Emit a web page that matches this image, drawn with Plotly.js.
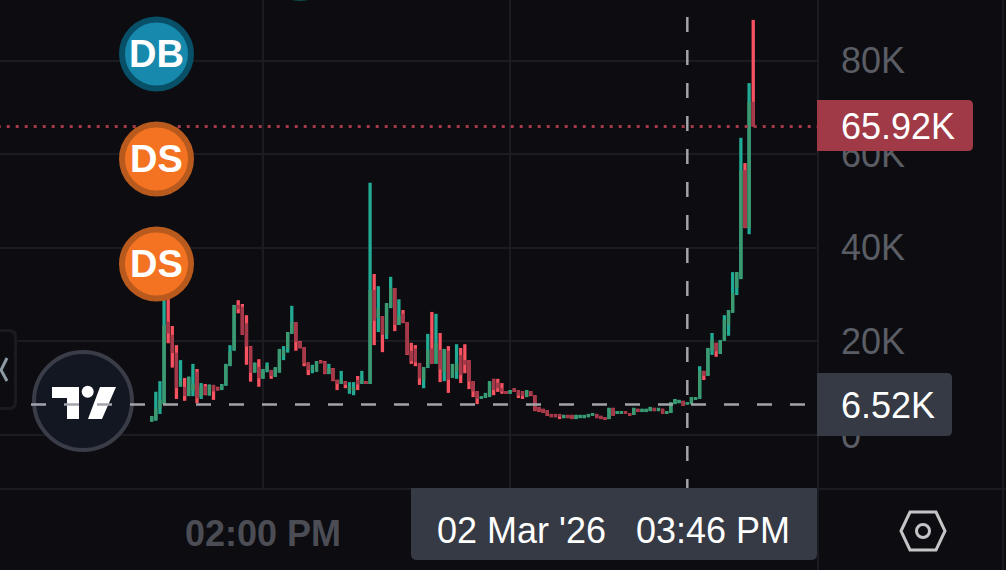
<!DOCTYPE html>
<html>
<head>
<meta charset="utf-8">
<script src="https://cdn.plot.ly/plotly-3.0.1.min.js"></script>
<style>
  html, body { margin: 0; padding: 0; background: #0c0c11; overflow: hidden; }
  #plot { width: 1006px; height: 570px; }
</style>
</head>
<body>
<div id="plot"></div>
<script>
// values in thousands, one entry per candle
const open = [2.9,3.2,5.7,6.6,24.2,21.4,17.6,10.6,10.3,8.4,9.5,13.5,8.2,10.4,8.5,10.7,10.2,9.7,10.6,14.8,18.1,27.8,27.4,23.9,18.9,13.4,14.6,12.1,13.8,13.9,12.5,13.4,16.9,18.5,21.7,24.1,20,18.8,15.5,13.8,13.6,15.9,15.7,13.1,14.2,11.8,11,11.4,9.6,9.4,11.8,11,11.5,11,31,25,25.4,21.4,27.2,31.4,23.6,25.9,24.1,18,18.5,15.4,11.75,14.4,18.5,15.3,18.2,13.5,18,12.3,13.5,17.1,16,16,11.5,9.4,7.8,8,8.2,12,11.2,10,9.4,8.8,10,9.6,9.4,8.1,9.4,8.5,6,5.6,5.3,4.5,4.5,4.5,3.6,4.3,4.3,3.4,3.6,3.6,3.8,4.1,4.5,4.1,3.8,3.4,5.8,4.5,4.5,5.1,4.7,4.3,5.6,4.9,4.9,5.1,5.8,5.1,5.6,4.5,4.7,6.6,6.8,7.3,6.5,6.6,7.5,7.8,13.7,12.7,18,19.7,17.4,20.2,23.5,26.2,31.4,33.4,56.6,44.2,71.2];
const close = [4,5.7,7.5,23.5,21.7,17.5,10,11.6,8.3,12.4,11,7.8,10.4,8.6,10.7,9.3,9.6,10.8,15.1,17.8,27.7,26.9,21.5,18.9,13.3,15.4,12.1,14,14.8,12.6,14.4,18.3,18.2,22,24.2,19.9,18.6,15.3,13.9,14.6,15.7,15.4,13.1,14.3,11.6,10.9,11.8,10.7,10.4,10.2,10.8,11.8,10.9,31,24.4,27,21.4,28.2,31.4,23.5,25.5,24,17.2,15.8,15.5,12.1,14.5,18.2,15.3,19.6,14,18.3,11.8,15.1,15.3,12.8,15,11.4,9.3,7.7,8.2,8.9,11.4,9.6,10,9.3,8.8,9.6,9.2,8.4,8.3,9.6,8.4,5.2,5,4.7,4.2,3.8,3.8,3.9,4.3,3.6,3.4,4.3,4.3,4.3,4.5,4.7,3.6,3.4,3.2,5.8,4.1,5.1,5.1,4.5,4.1,5.8,4.9,5.6,5.6,6,5.1,5.8,4.5,5.1,7,7.7,7.5,6.2,7,8.1,8.1,13.8,12.6,18.6,20.5,17.9,20.2,24.6,26.7,30.3,34.8,56.6,44.3,71.2,65.92];
const high = [4.06,9.25,11.5,31,29.3,23.3,19.2,16,12.2,12.5,15.2,14.1,11.1,10.9,10.8,10.7,10.3,10.9,15.2,19.2,27.8,28.8,28,25.6,19,15.5,16.2,14.1,15.5,13.9,14.5,18.4,19,22,27.6,24.1,20.1,18.8,15.5,15,15.8,16,15.8,15.2,14.3,11.8,13.7,11.5,11.3,11.3,12.6,13.7,11.5,53.9,34.4,31.8,25.4,28.2,33.8,31.4,29,26.7,24.1,19.7,19.2,15.4,14.5,21.6,26.3,25.9,21.8,18.4,19,15.2,19.4,18.6,19.4,16,11.5,9.4,8.3,9,11.5,12,12,11.1,9.4,9.6,10,9.6,9.4,9.6,9.4,8.5,6,5.6,5.3,4.5,4.5,4.5,4.3,4.3,4.3,4.3,4.3,4.3,4.5,4.7,4.5,4.1,3.8,5.8,5.8,5.1,5.1,5.1,4.7,5.8,5.6,5.6,5.6,6,5.8,5.8,5.6,5.1,7,7.7,7.5,7.3,7,8.1,8.1,14.7,13.7,18.6,21.8,19.7,20.3,25.6,26.7,34.8,34.8,63.5,58.1,75.2,88.7];
const low = [2.84,3.05,4.5,6.6,19.6,14.4,7.7,10.3,7.3,8.3,8.3,6.8,7.7,8.5,8.4,7.5,9.5,9.6,10.5,14.7,18,26,21.4,15,11.4,13.3,10.3,12,13.4,12,12.4,13.3,16,17.6,21.6,18,18.5,14.7,12.8,13.2,13.5,15.3,13,13,11.5,9.6,10.9,10,8.8,8.5,9.6,10.9,10.9,10.9,19.2,22,17.7,20.5,27.1,22.2,23.5,23.9,17.1,15.2,14.7,10.7,10,14.3,15.2,15.2,11.3,11.5,9,12.2,12,11.1,13.2,9.8,8.1,6.6,7.7,7.9,8.1,8.5,9.2,8.8,8.8,8.8,9.2,7.9,7.7,8.1,8.3,5.1,4.9,4.7,4.1,3.8,3.8,3.4,3.6,3.6,3.4,3.4,3.6,3.6,3.8,4.1,3.6,3.4,3.2,3.4,4.1,4.5,4.5,4.5,4.1,4.3,4.9,4.9,4.9,5.1,5.1,5.1,4.5,4.5,4.7,6.6,6.8,6.2,6.5,6.6,7.5,7.7,11.75,12.6,17.1,16.7,17.3,20.1,21.2,26.1,29.9,33.3,44.2,42.9,65.92];

const yTicks = [0, 20, 40, 60, 80];
const yTickLabels = ["0", "20K", "40K", "60K", "80K"];
const timeTicks = [27, 87];
const timeLabels = ["02:00 PM", ""];

const lastPrice = 65.92;
const lastPriceLabel = "65.92K";
const crossPrice = 6.52;
const crossPriceLabel = "6.52K";
const crossCandle = 130;
const crossDate = "02 Mar '26";
const crossTime = "03:46 PM";

const W = 1006, H = 570, plotR = 818, plotB = 489;
const FONT = '"Liberation Sans", Arial, sans-serif';
const BG = "#0c0c11", GRID = "#1b1c21";

// pixel -> paper helpers, for the things sitting on top of the chart
const px = x => x / plotR;
const py = y => 1 - y / plotB;

function roundBox(x0, y0, x1, y1, rTL, rTR, rBR, rBL, color) {
  const p = [
    `M${px(x0 + rTL)},${py(y0)}`,
    `L${px(x1 - rTR)},${py(y0)}`,
    `Q${px(x1)},${py(y0)} ${px(x1)},${py(y0 + rTR)}`,
    `L${px(x1)},${py(y1 - rBR)}`,
    `Q${px(x1)},${py(y1)} ${px(x1 - rBR)},${py(y1)}`,
    `L${px(x0 + rBL)},${py(y1)}`,
    `Q${px(x0)},${py(y1)} ${px(x0)},${py(y1 - rBL)}`,
    `L${px(x0)},${py(y0 + rTL)}`,
    `Q${px(x0)},${py(y0)} ${px(x0 + rTL)},${py(y0)}`,
    "Z"
  ].join(" ");
  return { type: "path", xref: "paper", yref: "paper", layer: "above", path: p, fillcolor: color, line: { width: 0 } };
}

function poly(points, fill, lineColor, lineWidth, closed) {
  let p = points.map((q, i) => (i ? "L" : "M") + px(q[0]) + "," + py(q[1])).join(" ");
  if (closed) p += " Z";
  return {
    type: "path", xref: "paper", yref: "paper", layer: "above", path: p,
    fillcolor: fill || "rgba(0,0,0,0)",
    line: lineColor ? { color: lineColor, width: lineWidth } : { width: 0 }
  };
}

function circle(cx, cy, r, fill, lineColor, lineWidth) {
  return {
    type: "circle", xref: "paper", yref: "paper", layer: "above",
    x0: px(cx - r), x1: px(cx + r), y0: py(cy + r), y1: py(cy - r),
    fillcolor: fill,
    line: lineColor ? { color: lineColor, width: lineWidth } : { width: 0 }
  };
}

function label(x, y, text, size, anchor, color, bold) {
  return {
    xref: "paper", yref: "paper", x: px(x), y: py(y), text: bold ? "<b>" + text + "</b>" : text,
    showarrow: false, xanchor: anchor, yanchor: "middle",
    font: { family: FONT, size: size, color: color || "#ffffff" }
  };
}

const idx = open.map((_, i) => i);
const up = open.map((o, i) => close[i] >= o);

const wicks = {
  type: "bar", x: idx, base: low, y: high.map((h, i) => h - low[i]),
  width: 0.8, hoverinfo: "skip",
  marker: { color: up.map(u => (u ? "#22ab94" : "#f7525f")), line: { width: 0 } }
};
const bodies = {
  type: "bar", x: idx, base: open.map((o, i) => Math.min(o, close[i])),
  y: open.map((o, i) => Math.abs(close[i] - o)),
  width: 0.8, hoverinfo: "skip",
  marker: { color: up.map(u => (u ? "#3d9a70" : "#a5394a")), line: { width: 0 } }
};

const shapes = [
  // grid stops short of the top edge
  { type: "rect", xref: "paper", yref: "paper", layer: "between", x0: 0, x1: 1, y0: py(8), y1: 1,
    fillcolor: BG, line: { width: 0 } },
  // marker just off the top edge
  circle(300, -35, 36, "#0d4a48", null, 0),
  // last price dotted line
  { type: "line", xref: "paper", yref: "y", x0: px(-2.3), x1: 1, y0: lastPrice, y1: lastPrice, layer: "above",
    line: { color: "#a5394a", width: 3, dash: "3px,6px" } },
  // frame lines
  { type: "line", xref: "paper", yref: "paper", x0: 0, x1: px(W), y0: 0, y1: 0, layer: "below", line: { color: GRID, width: 2 } },
  { type: "line", xref: "paper", yref: "paper", x0: 1, x1: 1, y0: py(H), y1: 1, layer: "below", line: { color: GRID, width: 2 } },
  { type: "line", xref: "paper", yref: "paper", x0: px(1003), x1: px(1003), y0: py(H), y1: 1, layer: "below", line: { color: GRID, width: 2 } },
  // side tab
  roundBox(-10, 329, 17, 410, 8, 8, 8, 8, "#1a1b20"),
  roundBox(-10, 332, 14, 407, 6, 6, 6, 6, BG),
  poly([[7, 358], [1, 370], [7, 381]], null, "#8d9aa3", 3, false),
  // logo badge
  circle(83, 401, 49, "#131722", "#3a3d47", 4),
  poly([[52, 387], [79, 387], [79, 419], [67, 419], [67, 398], [52, 398]], "#ffffff", null, 0, true),
  circle(87.7, 391.7, 6, "#ffffff"),
  poly([[100, 387], [116, 387], [102, 419], [88, 419]], "#ffffff", null, 0, true),
  // crosshair
  { type: "line", xref: "paper", yref: "y", x0: px(31), x1: 1, y0: crossPrice, y1: crossPrice, layer: "above",
    line: { color: "#a3a3ab", width: 2.5, dash: "15px,18px" } },
  { type: "line", xref: "x", yref: "paper", x0: crossCandle, x1: crossCandle, y0: py(17), y1: 0, layer: "above",
    line: { color: "#a3a3ab", width: 2.5, dash: "15px,18px" } },
  // trade markers
  circle(156.5, 54, 34.5, "#1689ad", "#084f68", 6),
  circle(156.5, 159, 34.5, "#f47322", "#b85a1d", 6),
  circle(156.5, 264, 34.5, "#f47322", "#b85a1d", 6),
  // price and time labels
  roundBox(817, 100, 973, 151, 0, 5, 5, 0, "#a13a47"),
  roundBox(817, 373, 952, 436, 0, 5, 5, 0, "#363a45"),
  roundBox(411, 488, 817, 560, 0, 0, 6, 6, "#363a45"),
  // settings icon
  poly([[901, 531], [910, 512], [936, 512], [945, 531], [936, 550], [910, 550]], null, "#c5c5c8", 3, true),
  circle(923, 531, 6.5, "rgba(0,0,0,0)", "#c5c5c8", 3)
];

const annotations = [
  label(156.5, 54, "DB", 38, "center", "#ffffff", true),
  label(156.5, 159, "DS", 38, "center", "#ffffff", true),
  label(156.5, 264, "DS", 38, "center", "#ffffff", true),
  label(839, 126, lastPriceLabel, 36, "left"),
  label(839, 405, crossPriceLabel, 36, "left"),
  label(435, 530, crossDate, 36, "left"),
  label(634, 530, crossTime, 36, "left")
];

const layout = {
  width: W, height: H,
  margin: { l: 0, r: W - plotR, t: 0, b: H - plotB, pad: 0 },
  paper_bgcolor: BG,
  plot_bgcolor: BG,
  barmode: "overlay",
  showlegend: false,
  hovermode: false,
  xaxis: {
    range: [-36.82, 161.72], showline: false, zeroline: false, showgrid: true,
    gridcolor: GRID, gridwidth: 2,
    tickmode: "array", tickvals: timeTicks, ticktext: timeLabels,
    ticks: "", ticklabelstandoff: 20,
    tickfont: { family: FONT, size: 36, color: "#4b4c54", weight: "bold" }
  },
  yaxis: {
    side: "right", range: [-11.54, 92.95], showline: false, zeroline: false, showgrid: true,
    gridcolor: GRID, gridwidth: 2,
    tickmode: "array", tickvals: yTicks, ticktext: yTickLabels,
    ticks: "", ticklabelstandoff: 22,
    tickfont: { family: FONT, size: 36, color: "#5b5d65" }
  },
  shapes: shapes,
  annotations: annotations
};

Plotly.newPlot("plot", [wicks, bodies], layout, { displayModeBar: false, staticPlot: true });
</script>
</body>
</html>
